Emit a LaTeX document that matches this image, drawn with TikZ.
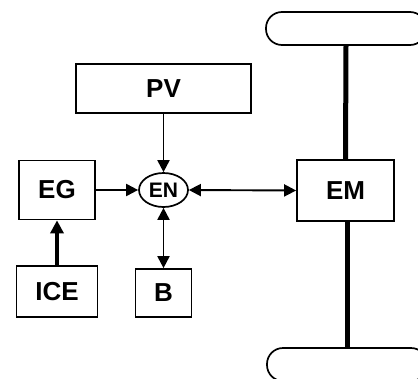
\documentclass[tikz,border=0pt]{standalone}
\usepackage{fontspec}
\setmainfont{Liberation Sans}
\usetikzlibrary{arrows.meta,shapes.geometric}
\begin{document}
\begin{tikzpicture}[x=1pt,y=-1pt,
  box/.style={draw,line width=1.7pt,inner sep=0pt,font=\bfseries\fontsize{26}{26}\selectfont},
  conn/.style={line width=1.9pt,-{Triangle[length=12pt,width=12pt]}},
  biconn/.style={line width=1.9pt,{Triangle[length=12pt,width=12pt]}-{Triangle[length=12pt,width=12pt]}},
  thickconn/.style={line width=3.2pt,-{Triangle[length=13pt,width=13pt]}},
  axle/.style={line width=5pt},
  wheel/.style={draw,line width=1.7pt,rounded corners=16pt,minimum width=160pt,minimum height=33pt,inner sep=0pt}]
\useasboundingbox (0,0) rectangle (418,378);
\clip (0,0) rectangle (418,378);
\node[box,minimum width=175pt,minimum height=49pt] (PV) at (163.5,88.5) {PV};
\node[box,minimum width=76pt,minimum height=59pt] (EG) at (57,190) {EG};
\node[draw,ellipse,line width=1.7pt,inner sep=0pt,minimum width=49pt,minimum height=34pt,font=\bfseries\fontsize{21}{21}\selectfont] (EN) at (163.5,190) {EN};
\node[box,minimum width=81pt,minimum height=51pt] (ICE) at (57,291.5) {ICE};
\node[box,minimum width=56pt,minimum height=48pt] (B) at (163.5,293) {B};
\node[box,minimum width=97pt,minimum height=61pt] (EM) at (345.5,190.5) {EM};
\node[wheel] (W1) at (346,28.5) {};
\node[wheel] (W2) at (347,364.5) {};
\draw[axle] (W1.south) -- (EM.north);
\draw[axle] (EM.south -| W2.north) -- (W2.north);
\draw[conn] (PV.south) -- (EN.north);
\draw[conn] (EG.east) -- (EN.west);
\draw[biconn] (EN.east) -- (EM.west);
\draw[biconn] (EN.south) -- (B.north);
\draw[thickconn] (ICE.north) -- (EG.south);
\end{tikzpicture}
\end{document}
